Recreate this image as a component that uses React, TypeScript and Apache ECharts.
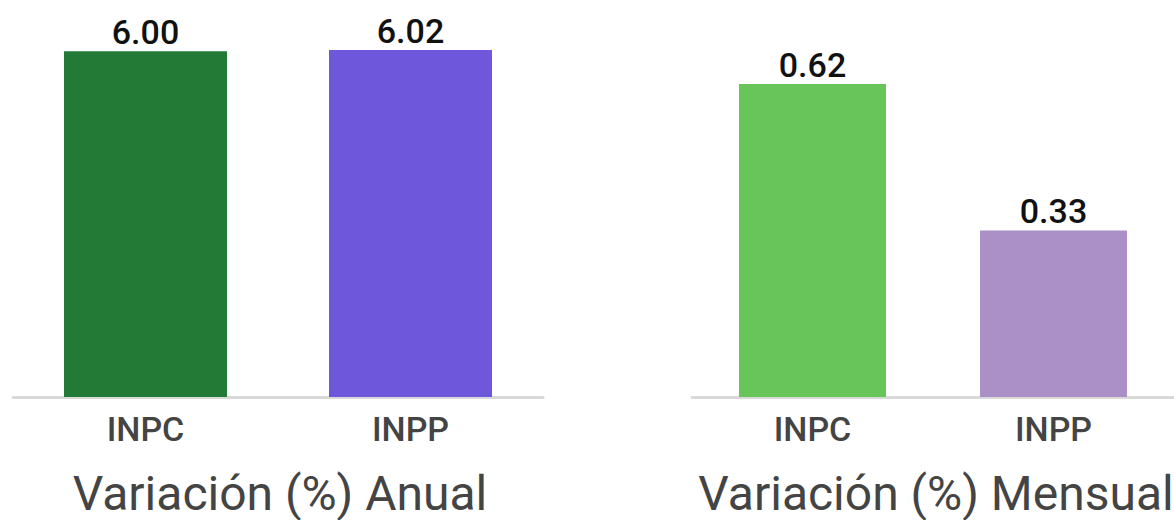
import React, { useEffect, useRef } from "react";
import * as echarts from "echarts";

const categories = ["INPC", "INPP"];
const annualValues = [6.0, 6.02];
const monthlyValues = [0.62, 0.33];
const annualColors = ["#237a37", "#6e57db"];
const monthlyColors = ["#67c559", "#ab90c8"];
const titles = ["Variación (%) Anual", "Variación (%) Mensual"];

export default function App() {
  const ref = useRef<HTMLDivElement>(null);
  useEffect(() => {
    document.body.style.margin = "0";
    if (!ref.current) return;
    const chart = echarts.init(ref.current, undefined, { renderer: "svg" });
    const font = "Roboto";
    const mkX = (gridIndex: number) => ({
      type: "category",
      gridIndex,
      data: categories,
      offset: 1.5,
      axisLine: { show: true, lineStyle: { color: "#d9d9d9", width: 3 } },
      axisTick: { show: false },
      axisLabel: {
        color: "#444444",
        fontFamily: font,
        fontSize: 34,
        fontWeight: 500,
        margin: 13,
      },
    });
    const mkY = (gridIndex: number) => ({
      type: "value",
      gridIndex,
      min: 0,
      max: "dataMax",
      show: false,
      splitLine: { show: false },
    });
    const mkSeries = (idx: number, values: number[], colors: string[], bw: number) => ({
      type: "bar",
      xAxisIndex: idx,
      yAxisIndex: idx,
      barWidth: bw,
      data: values.map((v, i) => ({ value: v, itemStyle: { color: colors[i] } })),
      label: {
        show: true,
        position: "top",
        distance: 2,
        color: "#111111",
        fontFamily: font,
        fontSize: 34,
        fontWeight: 500,
        formatter: (p: any) => Number(p.value).toFixed(2),
      },
    });
    chart.setOption({
      animation: false,
      backgroundColor: "#ffffff",
      textStyle: { fontFamily: font },
      title: [
        {
          text: titles[0],
          left: 275,
          top: 464,
          textAlign: "center",
          textStyle: { fontFamily: font, fontSize: 48, fontWeight: 400, color: "#444444" },
        },
        {
          text: titles[1],
          left: 931,
          top: 464,
          textAlign: "center",
          textStyle: { fontFamily: font, fontSize: 48, fontWeight: 400, color: "#444444" },
        },
      ],
      grid: [
        { left: 13, width: 530, top: 50, bottom: 123 },
        { left: 692, width: 482, top: 84, bottom: 123 },
      ],
      xAxis: [mkX(0), mkX(1)],
      yAxis: [mkY(0), mkY(1)],
      series: [
        mkSeries(0, annualValues, annualColors, 163),
        mkSeries(1, monthlyValues, monthlyColors, 147),
      ],
    });
    return () => chart.dispose();
  }, []);
  return (
    <div
      ref={ref}
      style={{ position: "absolute", left: 0, top: 0, width: 1174, height: 520 }}
    />
  );
}
